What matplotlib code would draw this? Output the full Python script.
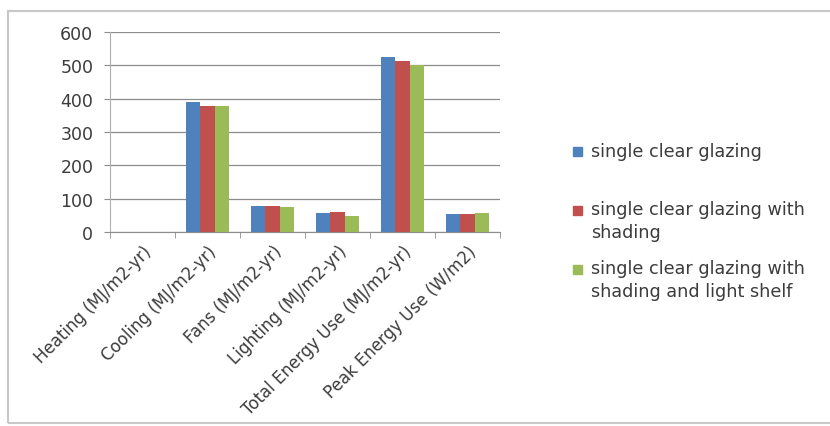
import matplotlib
matplotlib.use("Agg")
import matplotlib.pyplot as plt
import numpy as np
from matplotlib.patches import Rectangle

categories = ["Heating (MJ/m2-yr)", "Cooling (MJ/m2-yr)", "Fans (MJ/m2-yr)",
              "Lighting (MJ/m2-yr)", "Total Energy Use (MJ/m2-yr)", "Peak Energy Use (W/m2)"]
series_names = [["single clear glazing"],
                ["single clear glazing with", "shading"],
                ["single clear glazing with", "shading and light shelf"]]
clear_glazing = [0, 389, 79, 57, 526, 54]
with_shading = [0, 378, 79, 61, 514, 54]
with_shelf = [0, 378, 74, 49, 502, 57]
yticks = [0, 100, 200, 300, 400, 500, 600]

colors = ["#4F81BD", "#C0504D", "#9BBB59"]
plt.rcParams["font.family"] = ["DejaVu Sans"]
text_color = "#3C3C3C"

W, H = 830, 427
fig = plt.figure(figsize=(W / 100, H / 100), dpi=100)
fig.patch.set_facecolor("white")

# outer chart frame (runs off the right edge)
fig.patches.append(Rectangle((8 / W, 3 / H), (W + 10) / W, (H - 15) / H,
                             transform=fig.transFigure, fill=False,
                             edgecolor="#C8C8C8", linewidth=1.5))

ax = fig.add_axes([110 / W, 1 - 233 / H, 390 / W, 200 / H])
x = np.arange(len(categories))
bw = 0.22
for i, (vals, c) in enumerate(zip([clear_glazing, with_shading, with_shelf], colors)):
    ax.bar(x + (i - 1) * bw, vals, width=bw, color=c, zorder=3)

ax.set_xlim(-0.5, len(categories) - 0.5)
ax.set_ylim(0, 600)
ax.set_yticks(yticks)
ax.set_yticklabels([str(v) for v in yticks], fontsize=12.5, color=text_color)
ax.yaxis.grid(True, color="#8C8C8C", linewidth=0.9, zorder=0)
ax.tick_params(axis="y", length=4, color="#8C8C8C", pad=8)

ax.set_xticks(x)
ax.set_xticklabels(categories, rotation=45, ha="right", rotation_mode="anchor",
                   fontsize=12, color=text_color)
ax.set_xticks(np.arange(-0.5, len(categories)), minor=True)
ax.tick_params(axis="x", which="major", length=0, pad=7)
ax.tick_params(axis="x", which="minor", length=4, color="#8C8C8C")

for s in ["top", "right"]:
    ax.spines[s].set_visible(False)
ax.spines["left"].set_color("#B0B0B0")
ax.spines["bottom"].set_color("#8C8C8C")

# legend: square top, then text baselines per line (pixel rows from the top)
square_tops = [148, 207, 266]
baselines = [[157], [215, 238], [274, 297]]
for sq, lines, bl, c in zip(square_tops, series_names, baselines, colors):
    fig.patches.append(Rectangle((573 / W, 1 - (sq + 9) / H), 9 / W, 9 / H,
                                 transform=fig.transFigure, color=c))
    for line, b in zip(lines, bl):
        fig.text(591 / W, 1 - b / H, line, fontsize=12.7, color=text_color,
                 va="baseline", ha="left")

fig.savefig("out.png", dpi=100)
